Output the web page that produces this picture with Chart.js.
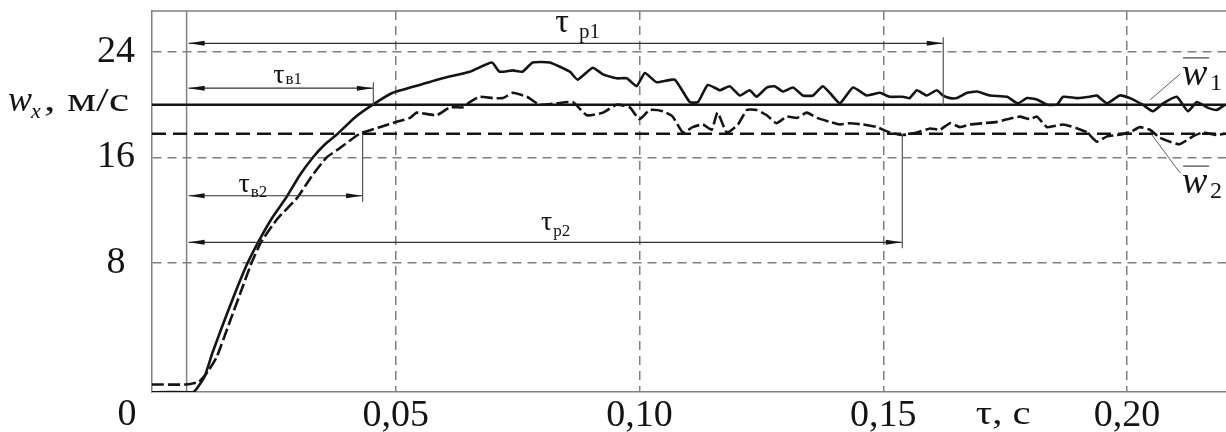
<!DOCTYPE html>
<html>
<head>
<meta charset="utf-8">
<script src="https://cdn.jsdelivr.net/npm/chart.js@4"></script>
<style>
html, body { margin: 0; padding: 0; background: #fff; }
</style>
</head>
<body>
<canvas id="chart" width="1226" height="432"></canvas>
<script>
// time, s
const t1 = [0, 0.0084, 0.0092, 0.0108, 0.0124, 0.0147, 0.0170, 0.0196, 0.0221, 0.0246, 0.0276, 0.0302, 0.0330, 0.0355, 0.0381, 0.0415, 0.0453, 0.0494,
  0.0549, 0.0596, 0.0652, 0.0697, 0.0713, 0.0740, 0.0760, 0.0781, 0.0816, 0.0857, 0.0873, 0.0904, 0.0925, 0.0953, 0.0974, 0.0994, 0.1011, 0.1035,
  0.1072, 0.1103, 0.1120, 0.1140, 0.1165, 0.1185, 0.1206, 0.1226, 0.1240, 0.1261, 0.1277, 0.1294, 0.1315, 0.1335, 0.1356, 0.1376, 0.1395, 0.1411,
  0.1438, 0.1466, 0.1493, 0.1513, 0.1540, 0.1554, 0.1569, 0.1589, 0.1610, 0.1622, 0.1637, 0.1651, 0.1672, 0.1692, 0.1719, 0.1754, 0.1776, 0.1795,
  0.1815, 0.1836, 0.1856, 0.1869, 0.1898, 0.1924, 0.1938, 0.1959, 0.1985, 0.2006, 0.2032, 0.2053, 0.2074, 0.2102, 0.2125, 0.2143, 0.2164, 0.2184, 0.2201];
// mean velocity w1, m/s
const w1 = [-1.8, -1.8, -1.5, -0.6, 1.2, 3.5, 5.7, 8.0, 9.8, 11.4, 13.0, 14.6, 16.0, 17.0, 17.8, 19.0, 20.0, 20.9,
  21.5, 22.0, 22.5, 23.2, 22.5, 22.6, 22.5, 23.2, 23.2, 22.5, 21.9, 22.8, 22.3, 22.0, 22.0, 21.4, 22.4, 21.7,
  21.9, 20.2, 20.2, 21.5, 21.1, 21.4, 20.7, 21.1, 20.6, 21.3, 21.4, 21.0, 21.3, 20.7, 20.7, 21.4, 20.7, 20.1,
  21.3, 20.7, 20.9, 20.6, 20.6, 20.5, 21.1, 20.7, 21.1, 20.7, 20.5, 20.5, 20.9, 21.0, 20.7, 20.6, 20.1, 20.5,
  20.4, 20.0, 20.0, 20.6, 20.5, 20.6, 20.7, 20.1, 20.7, 20.5, 20.0, 19.5, 20.1, 20.6, 19.5, 20.2, 19.8, 19.6, 20.0];

const t2 = [0, 0.0070, 0.0096, 0.0115, 0.0133, 0.0159, 0.0186, 0.0204, 0.0224, 0.0256, 0.0299, 0.0328, 0.0358, 0.0385, 0.0426, 0.0467, 0.0502,
  0.0529, 0.0543, 0.0584, 0.0611, 0.0637, 0.0652, 0.0672, 0.0699, 0.0720, 0.0740, 0.0769, 0.0795, 0.0830, 0.0863, 0.0892, 0.0925, 0.0953, 0.0980,
  0.1000, 0.1021, 0.1048, 0.1068, 0.1089, 0.1109, 0.1130, 0.1148, 0.1160, 0.1179, 0.1202, 0.1220, 0.1240, 0.1261, 0.1281, 0.1302, 0.1323, 0.1343,
  0.1364, 0.1390, 0.1411, 0.1431, 0.1458, 0.1487, 0.1513, 0.1540, 0.1569, 0.1596, 0.1616, 0.1637, 0.1657, 0.1678, 0.1704, 0.1733, 0.1754, 0.1780,
  0.1801, 0.1815, 0.1836, 0.1869, 0.1898, 0.1918, 0.1938, 0.1959, 0.1979, 0.2006, 0.2026, 0.2047, 0.2067, 0.2088, 0.2108, 0.2135, 0.2156, 0.2184, 0.2201];
// mean velocity w2, m/s
const w2 = [-1.2, -1.2, -1.0, -0.2, 0.9, 3.5, 6.2, 8.0, 9.6, 11.3, 13.0, 14.6, 16.0, 16.7, 17.8, 18.3, 18.7,
  19.0, 19.4, 19.2, 19.8, 19.8, 20.2, 20.6, 20.5, 20.5, 20.9, 20.6, 20.0, 20.1, 20.2, 19.2, 19.4, 20.0, 19.8,
  18.9, 19.6, 19.5, 19.1, 17.9, 18.3, 18.5, 18.1, 19.4, 17.9, 18.5, 19.6, 19.6, 19.2, 18.6, 19.1, 19.0, 19.4,
  19.0, 18.7, 18.5, 18.6, 18.5, 18.3, 17.9, 17.7, 17.9, 18.2, 18.1, 18.6, 18.3, 18.5, 18.6, 18.7, 18.9, 19.1,
  18.9, 19.1, 18.3, 18.5, 18.2, 17.9, 17.2, 17.6, 17.7, 17.9, 18.3, 18.1, 17.5, 17.2, 17.0, 17.6, 17.9, 17.7, 17.8];

const xTicks = [0.05, 0.10, 0.15, 0.20];
const yTicks = [8, 16, 24];
const xMax = 0.2203;
const yMin = -1.77;
const yMax = 27.1;

// steady levels and characteristic times
const wMean1 = 20.0;
const wMean2 = 17.8;
const tStart = 0.0071;
const tauB1 = 0.0453;
const tauB2 = 0.0431;
const tauP1 = 0.1622;
const tauP2 = 0.1538;

const SERIF = '"Liberation Serif", "Times New Roman", serif';
const INK = '#141414';
const GRAY = '#808080';

function xy(ts, ws) {
  return ts.map((t, i) => ({ x: t, y: ws[i] }));
}

function arrowHead(ctx, x, y, dir) {
  ctx.beginPath();
  ctx.moveTo(x, y);
  ctx.lineTo(x - dir * 16, y - 2.5);
  ctx.lineTo(x - dir * 16, y + 2.5);
  ctx.closePath();
  ctx.fill();
}

function tauLabel(ctx, cx, base, sub, size, gap, subDrop) {
  ctx.font = size + 'px ' + SERIF;
  const wT = ctx.measureText('τ').width;
  const subSize = Math.round(size * 0.62);
  ctx.font = subSize + 'px ' + SERIF;
  const wS = ctx.measureText(sub).width;
  let x0 = cx - (wT + gap + wS) / 2;
  ctx.font = size + 'px ' + SERIF;
  ctx.fillText('τ', x0, base);
  ctx.font = subSize + 'px ' + SERIF;
  ctx.fillText(sub, x0 + wT + gap, base + subDrop);
}

function noPadding(s) {
  s.paddingTop = 0;
  s.paddingBottom = 0;
  s.paddingLeft = 0;
  s.paddingRight = 0;
}

const annotations = {
  id: 'annotations',
  afterDatasetsDraw(chart) {
    const { ctx, chartArea: a, scales: { x, y } } = chart;
    ctx.save();

    // top of the frame
    ctx.strokeStyle = GRAY;
    ctx.lineWidth = 1.5;
    ctx.beginPath();
    ctx.moveTo(a.left, a.top);
    ctx.lineTo(a.right, a.top);
    ctx.stroke();

    // dimension arrows: tau_B1, tau_B2, tau_p1, tau_p2
    const spans = [
      { end: tauP1, level: 24.65, ref: wMean1, sub: 'р1', labT: 0.0873, size: 34, gap: 10, drop: 6, lift: 11 },
      { end: tauB1, level: 21.25, ref: wMean1, sub: 'в1', labT: 0.0278, size: 28, gap: 1, drop: 1, lift: 5 },
      { end: tauB2, level: 13.1, ref: wMean2, sub: 'в2', labT: 0.0207, size: 28, gap: 1, drop: 5, lift: 4 },
      { end: tauP2, level: 9.57, ref: wMean2, sub: 'р2', labT: 0.0828, size: 28, gap: 1, drop: 6, lift: 12 }
    ];
    ctx.fillStyle = INK;
    spans.forEach(s => {
      const xa = x.getPixelForValue(tStart);
      const xb = x.getPixelForValue(s.end);
      const yl = y.getPixelForValue(s.level);
      const yr = y.getPixelForValue(s.ref);
      ctx.strokeStyle = '#303030';
      ctx.lineWidth = 1.2;
      ctx.beginPath();
      ctx.moveTo(xa + 2, yl);
      ctx.lineTo(xb, yl);
      ctx.stroke();
      arrowHead(ctx, xa + 2, yl, -1);
      arrowHead(ctx, xb, yl, 1);
      const ext = yl < yr ? -6 : 6;
      ctx.strokeStyle = '#555';
      ctx.beginPath();
      ctx.moveTo(xb + 0.5, yr);
      ctx.lineTo(xb + 0.5, yl + ext);
      ctx.stroke();
      ctx.textBaseline = 'alphabetic';
      ctx.textAlign = 'left';
      tauLabel(ctx, x.getPixelForValue(s.labT), yl - s.lift, s.sub, s.size, s.gap, s.drop);
    });

    // origin label
    ctx.font = '38px ' + SERIF;
    ctx.textAlign = 'center';
    ctx.textBaseline = 'middle';
    ctx.fillText('0', x.getPixelForValue(0) - 25, a.bottom + 23);

    // x axis title
    ctx.save();
    ctx.translate(x.getPixelForValue(0.1746), a.bottom + 23);
    ctx.scale(1.2, 1);
    ctx.font = '34px ' + SERIF;
    ctx.fillText('τ, с', 0, 0);
    ctx.restore();

    // y axis title
    const yb = y.getPixelForValue(wMean1) + 6;
    ctx.textAlign = 'left';
    ctx.textBaseline = 'alphabetic';
    ctx.font = 'italic 36px ' + SERIF;
    ctx.fillText('w', 8, yb);
    ctx.font = 'italic 22px ' + SERIF;
    ctx.fillText('x', 31, yb + 7);
    ctx.save();
    ctx.translate(44, yb);
    ctx.scale(1.35, 1);
    ctx.font = '34px ' + SERIF;
    ctx.fillText(', м/с', 0, 0);
    ctx.restore();

    // series labels with leaders
    const tags = [
      { sub: '1', from: [0.2047, 20.36], to: [0.2109, 22.33], base: 21.5 },
      { sub: '2', from: [0.2051, 17.71], to: [0.2109, 14.82], base: 13.3 }
    ];
    tags.forEach(g => {
      ctx.strokeStyle = '#606060';
      ctx.lineWidth = 1;
      ctx.beginPath();
      ctx.moveTo(x.getPixelForValue(g.from[0]), y.getPixelForValue(g.from[1]));
      ctx.lineTo(x.getPixelForValue(g.to[0]), y.getPixelForValue(g.to[1]));
      ctx.stroke();
      const lx = x.getPixelForValue(0.2113);
      const by = y.getPixelForValue(g.base);
      ctx.font = 'italic 38px ' + SERIF;
      ctx.fillText('w', lx, by);
      ctx.font = '24px ' + SERIF;
      ctx.fillText(g.sub, lx + 28, by + 5);
      ctx.strokeStyle = '#444';
      ctx.lineWidth = 1.2;
      ctx.beginPath();
      ctx.moveTo(lx + 1, by - 27);
      ctx.lineTo(lx + 27, by - 27);
      ctx.stroke();
    });

    ctx.restore();
  }
};

new Chart(document.getElementById('chart'), {
  type: 'line',
  data: {
    datasets: [
      { label: 'w1', data: xy(t1, w1), borderColor: INK, borderWidth: 2.6, pointRadius: 0, tension: 0.15 },
      { label: 'w2', data: xy(t2, w2), borderColor: INK, borderWidth: 2.6, borderDash: [12, 4], pointRadius: 0, tension: 0.15 },
      { label: 'mean1', data: [{ x: 0, y: wMean1 }, { x: xMax, y: wMean1 }], borderColor: INK, borderWidth: 2.6, pointRadius: 0 },
      { label: 'mean2', data: [{ x: 0, y: wMean2 }, { x: xMax, y: wMean2 }], borderColor: INK, borderWidth: 2.6, borderDash: [14, 7], pointRadius: 0 },
      { label: 'start', data: [{ x: tStart, y: yMin }, { x: tStart, y: yMax }], borderColor: GRAY, borderWidth: 1.5, pointRadius: 0 }
    ]
  },
  options: {
    responsive: false,
    animation: false,
    layout: { padding: { top: 11, left: 0, right: 0, bottom: 0 } },
    plugins: { legend: { display: false }, tooltip: { enabled: false } },
    scales: {
      x: {
        type: 'linear',
        min: 0,
        max: xMax,
        afterBuildTicks: s => { s.ticks = xTicks.map(v => ({ value: v })); },
        afterFit: s => { s.height = 40; noPadding(s); },
        ticks: {
          padding: 1,
          color: INK,
          font: { family: SERIF, size: 38 },
          callback: v => v.toFixed(2).replace('.', ',')
        },
        grid: { color: GRAY, lineWidth: 1.5, drawTicks: false },
        border: { display: true, color: GRAY, width: 1.5, dash: [9, 6] }
      },
      y: {
        min: yMin,
        max: yMax,
        afterBuildTicks: s => { s.ticks = yTicks.map(v => ({ value: v })); },
        afterFit: s => { s.width = 152; noPadding(s); },
        ticks: {
          padding: 17,
          crossAlign: 'center',
          color: INK,
          font: { family: SERIF, size: 38 }
        },
        grid: { color: GRAY, lineWidth: 1.5, drawTicks: false },
        border: { display: true, color: GRAY, width: 1.5, dash: [9, 6] }
      }
    }
  },
  plugins: [annotations]
});
</script>
</body>
</html>
